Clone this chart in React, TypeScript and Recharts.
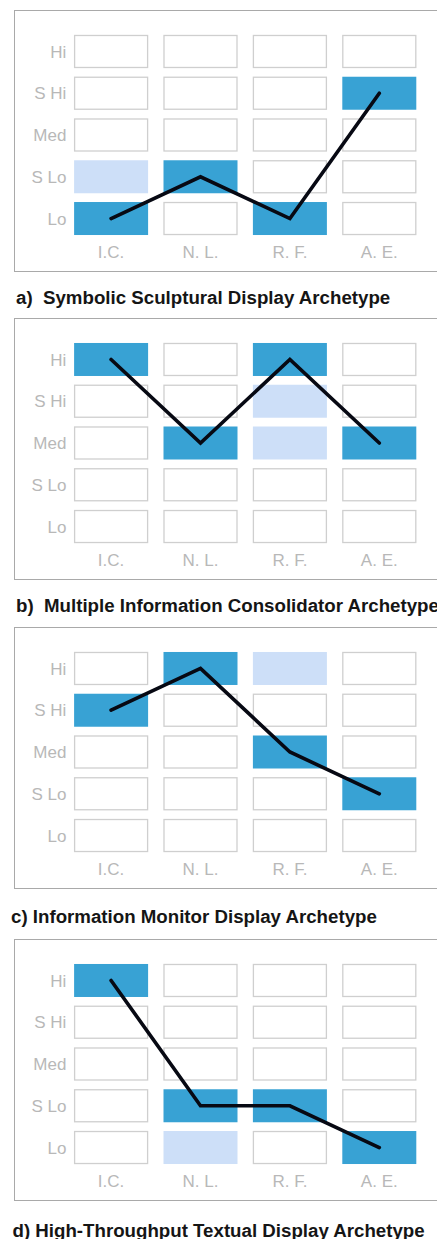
import React from 'react';
import { ComposedChart, XAxis, YAxis, Scatter } from 'recharts';

const categories = ['I.C.', 'N. L.', 'R. F.', 'A. E.'];
const levels = ['Lo', 'S Lo', 'Med', 'S Hi', 'Hi'];

const titleA = 'a)\u00a0\u00a0Symbolic Sculptural Display Archetype';
const titleB = 'b)\u00a0\u00a0Multiple Information Consolidator Archetype';
const titleC = 'c) Information Monitor Display Archetype';
const titleD = 'd) High-Throughput Textual Display Archetype';

// level index: 1 = Lo ... 5 = Hi
const valuesA = [1, 2, 1, 4];
const valuesB = [5, 3, 5, 3];
const valuesC = [4, 5, 3, 2];
const valuesD = [5, 2, 2, 1];

const lightA = [{ category: 'I.C.', level: 2 }];
const lightB = [
  { category: 'R. F.', level: 4 },
  { category: 'R. F.', level: 3 },
];
const lightC = [{ category: 'R. F.', level: 5 }];
const lightD = [{ category: 'N. L.', level: 1 }];

type Light = { category: string; level: number };

const DARK = '#38a2d4';
const LIGHT = '#cddff8';
const CELL_STROKE = '#cfcfcf';
const TICK_COLOR = '#b8b8b8';
const LINE_COLOR = '#070913';
const FONT = "'Liberation Sans', Arial, Helvetica, sans-serif";

function buildCells(values: number[], light: Light[]) {
  const cells: { x: number; y: number; state: string }[] = [];
  categories.forEach((c, i) => {
    levels.forEach((_l, j) => {
      const level = j + 1;
      let state = 'empty';
      if (values[i] === level) state = 'dark';
      else if (light.some((p) => p.category === c && p.level === level)) state = 'light';
      cells.push({ x: i + 1, y: level, state });
    });
  });
  return cells;
}

function buildLine(values: number[]) {
  return values.map((v, i) => ({ x: i + 1, y: v }));
}

const CellShape = (props: any) => {
  const { cx, cy, payload } = props;
  const w = 74;
  const h = 33;
  const x = cx - w / 2;
  const y = cy - h / 2;
  if (payload.state === 'dark') {
    return <rect x={x} y={y} width={w} height={h} fill={DARK} />;
  }
  if (payload.state === 'light') {
    return <rect x={x} y={y} width={w} height={h} fill={LIGHT} />;
  }
  return (
    <rect
      x={x + 0.5}
      y={y + 0.5}
      width={w - 1}
      height={h - 1}
      fill="#ffffff"
      stroke={CELL_STROKE}
      strokeWidth={1.3}
    />
  );
};

const NoDot = () => <g />;

const CHART_W = 437;
const BOX_H = 262;

function Panel(props: {
  top: number;
  values: number[];
  light: Light[];
  title: string;
  titleX: number;
  titleBaseline: number;
}) {
  const { top, values, light, title, titleX, titleBaseline } = props;
  const cells = buildCells(values, light);
  const line = buildLine(values);
  return (
    <>
      <div
        style={{
          position: 'absolute',
          left: 14,
          top: top,
          width: 460,
          height: BOX_H,
          boxSizing: 'border-box',
          border: '1.5px solid #a9a9a9',
        }}
      />
      <div style={{ position: 'absolute', left: 0, top: top, width: CHART_W, height: BOX_H }}>
        <ComposedChart
          width={CHART_W}
          height={BOX_H}
          margin={{ top: 20.6, right: 13, bottom: 2.6, left: 6.4 }}
        >
          <XAxis
            dataKey="x"
            type="number"
            domain={[0.5, 4.5]}
            ticks={[1, 2, 3, 4]}
            interval={0}
            tickFormatter={(v: number) => categories[v - 1]}
            axisLine={false}
            tickLine={false}
            tickSize={0}
            tickMargin={7}
            height={30}
            tick={{ fill: TICK_COLOR, fontSize: 17, fontFamily: FONT }}
          />
          <YAxis
            dataKey="y"
            type="number"
            domain={[0.5, 5.5]}
            ticks={[1, 2, 3, 4, 5]}
            interval={0}
            tickFormatter={(v: number) => levels[v - 1]}
            axisLine={false}
            tickLine={false}
            tickSize={0}
            tickMargin={0}
            width={60}
            tick={{ fill: TICK_COLOR, fontSize: 17, fontFamily: FONT }}
          />
          <Scatter data={cells} dataKey="y" shape={CellShape} isAnimationActive={false} />
          <Scatter
            data={line}
            dataKey="y"
            shape={NoDot}
            line={{ stroke: LINE_COLOR, strokeWidth: 3.6, fill: 'none', strokeLinecap: 'round' }}
            lineType="joint"
            isAnimationActive={false}
          />
        </ComposedChart>
      </div>
      <svg
        width={CHART_W}
        height={40}
        style={{ position: 'absolute', left: 0, top: titleBaseline - 28 }}
      >
        <text
          x={titleX}
          y={28}
          fontFamily={FONT}
          fontWeight="bold"
          fontSize={18.7}
          fill="#151515"
        >
          {title}
        </text>
      </svg>
    </>
  );
}

export default function App() {
  return (
    <div
      style={{
        position: 'absolute',
        left: 0,
        top: 0,
        width: 437,
        height: 1239,
        overflow: 'hidden',
        background: '#ffffff',
      }}
    >
      <Panel top={10} values={valuesA} light={lightA} title={titleA} titleX={16} titleBaseline={303.5} />
      <Panel top={318} values={valuesB} light={lightB} title={titleB} titleX={16} titleBaseline={611.5} />
      <Panel top={627} values={valuesC} light={lightC} title={titleC} titleX={11} titleBaseline={923} />
      <Panel top={939} values={valuesD} light={lightD} title={titleD} titleX={12.5} titleBaseline={1236.5} />
    </div>
  );
}
